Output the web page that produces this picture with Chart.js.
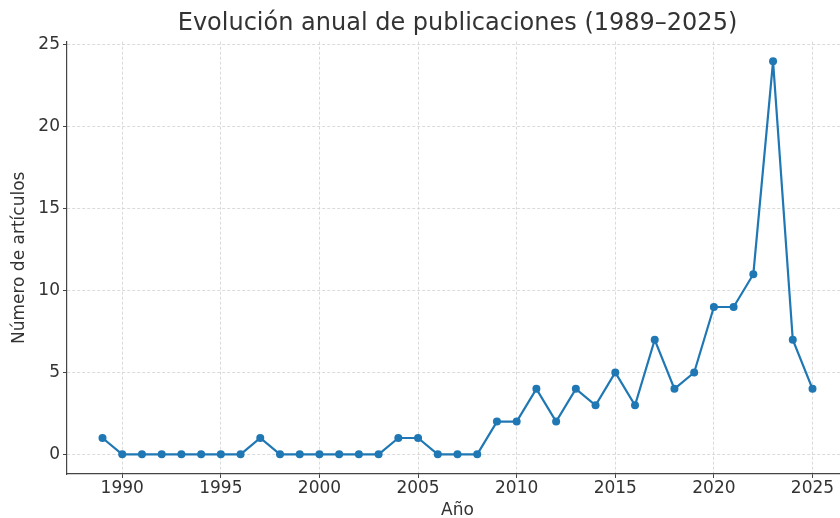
<!DOCTYPE html>
<html>
<head>
<meta charset="utf-8">
<script src="https://cdn.jsdelivr.net/npm/chart.js@4/dist/chart.umd.min.js"></script>
<style>
  html, body { margin: 0; padding: 0; background: #ffffff; overflow: hidden; width: 840px; height: 518px; }
  #wrap { width: 860px; height: 524px; }
</style>
</head>
<body>
<div id="wrap"><canvas id="c" width="860" height="524"></canvas></div>
<script>
const years = [1989, 1990, 1991, 1992, 1993, 1994, 1995, 1996, 1997, 1998, 1999,
               2000, 2001, 2002, 2003, 2004, 2005, 2006, 2007, 2008, 2009, 2010,
               2011, 2012, 2013, 2014, 2015, 2016, 2017, 2018, 2019, 2020, 2021,
               2022, 2023, 2024, 2025];
const counts = [1, 0, 0, 0, 0, 0, 0, 0, 1, 0, 0,
                0, 0, 0, 0, 1, 1, 0, 0, 0, 2, 2,
                4, 2, 4, 3, 5, 3, 7, 4, 5, 9, 9,
                11, 24, 7, 4];
const xTicks = [1990, 1995, 2000, 2005, 2010, 2015, 2020, 2025];
const yTicks = [0, 5, 10, 15, 20, 25];
const titleText = 'Evolución anual de publicaciones (1989–2025)';
const xLabel = 'Año';
const yLabel = 'Número de artículos';

const points = years.map((y, i) => ({ x: y, y: counts[i] }));
const FONT = 'DejaVu Sans';
const TXT = '#333333';
const AXIS = '#444444';

new Chart(document.getElementById('c'), {
  type: 'line',
  data: {
    datasets: [{
      data: points,
      borderColor: '#1f77b4',
      backgroundColor: '#1f77b4',
      borderWidth: 2.2,
      pointRadius: 4,
      pointBorderWidth: 0,
      pointBackgroundColor: '#1f77b4',
      tension: 0,
      fill: false
    }]
  },
  options: {
    responsive: false,
    animation: false,
    layout: { padding: { left: 0, right: 12, top: 0, bottom: 0 } },
    plugins: {
      legend: { display: false },
      tooltip: { enabled: false },
      title: {
        display: true,
        text: titleText,
        fullSize: false,
        color: TXT,
        font: { family: FONT, size: 24, weight: 'normal' },
        padding: { top: 9, bottom: 3.9 }
      }
    },
    scales: {
      x: {
        type: 'linear',
        min: 1987.2,
        max: 2026.8,
        afterBuildTicks: (s) => { s.ticks = xTicks.map(v => ({ value: v })); },
        afterFit: (s) => { s.height = 50; },
        ticks: {
          color: TXT,
          font: { family: FONT, size: 17 },
          padding: 0,
          maxRotation: 0,
          autoSkip: false,
          callback: (v) => String(v)
        },
        grid: {
          color: '#d0d0d0',
          lineWidth: 0.8,
          tickColor: AXIS,
          tickLength: 4,
          tickWidth: 1,
          tickBorderDash: []
        },
        border: { display: true, color: AXIS, width: 1.2, dash: [3, 2] },
        title: {
          display: true,
          text: xLabel,
          color: TXT,
          font: { family: FONT, size: 17 },
          padding: { top: 0, bottom: 3 }
        }
      },
      y: {
        type: 'linear',
        min: -1.2,
        max: 25.2,
        afterBuildTicks: (s) => { s.ticks = yTicks.map(v => ({ value: v })); },
        afterFit: (s) => { s.width = 67; },
        ticks: {
          color: TXT,
          font: { family: FONT, size: 17 },
          padding: 3,
          autoSkip: false,
          callback: (v) => String(v)
        },
        grid: {
          color: '#d0d0d0',
          lineWidth: 0.8,
          tickColor: AXIS,
          tickLength: 4,
          tickWidth: 1,
          tickBorderDash: []
        },
        border: { display: true, color: AXIS, width: 1.2, dash: [3, 2] },
        title: {
          display: true,
          text: yLabel,
          color: TXT,
          font: { family: FONT, size: 17 },
          padding: { top: 8.9, bottom: 0 }
        }
      }
    }
  }
});
</script>
</body>
</html>
